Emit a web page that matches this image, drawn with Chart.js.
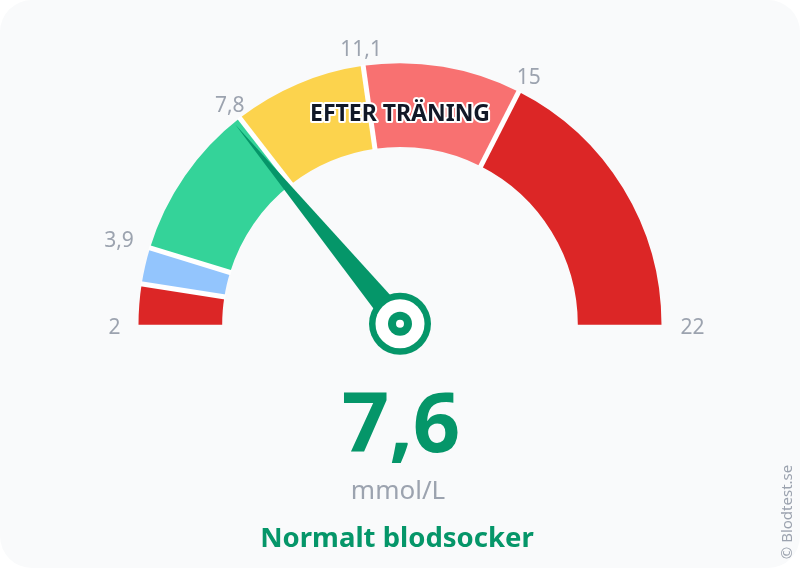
<!DOCTYPE html>
<html>
<head>
<meta charset="utf-8">
<title>Blodsocker</title>
<script src="https://cdn.jsdelivr.net/npm/chart.js@4"></script>
<style>
    html, body { margin: 0; padding: 0; background: #fff; }
    #wrap { width: 800px; height: 568px; background: #f9fafb; border-radius: 32px; overflow: hidden; }
    canvas { display: block; }
</style>
</head>
<body>
<div id="wrap"><canvas id="gauge" width="800" height="568"></canvas></div>
<script>
// Zones on the gauge (mmol/L)
const zoneLimits = [2, 3, 3.9, 7.8, 11.1, 15, 22];
const zoneColors = ['#dc2626', '#93c5fd', '#34d399', '#fcd34d', '#f87171', '#dc2626'];
const tickValues = [2, 3.9, 7.8, 11.1, 15, 22];
const tickLabels = ['2', '3,9', '7,8', '11,1', '15', '22'];
// nudge of each tick label from the outer edge of the arc, in px
const tickNudge = [[-24, 3], [-31, -7], [-10, -12], [-2, -16], [10, -14], [31, 3]];
const needleValue = 7.6;
const valueLabel = '7,6';
const unitLabel = 'mmol/L';
const statusLabel = 'Normalt blodsocker';
const contextLabel = 'EFTER TRÄNING';
const creditLabel = '© Blodtest.se';

const green = '#059669';
const grey = '#9ca3af';
const fontName = '"Noto Sans", sans-serif';

const zoneSizes = zoneLimits.slice(1).map((limit, i) => limit - zoneLimits[i]);

function valueToAngle(value) {
    const min = zoneLimits[0];
    const max = zoneLimits[zoneLimits.length - 1];
    return Math.PI + (value - min) / (max - min) * Math.PI;
}

const gaugeDecor = {
    id: 'gaugeDecor',
    afterDatasetsDraw(chart) {
        const ctx = chart.ctx;
        const arcs = chart.getDatasetMeta(0).data;
        const cx = arcs[0].x;
        const cy = arcs[0].y;
        const outer = arcs[0].outerRadius;
        const inner = arcs[0].innerRadius;

        ctx.save();

        // white gaps between the zones
        ctx.strokeStyle = '#fff';
        ctx.lineWidth = 5;
        arcs.slice(1).forEach(arc => {
            const a = arc.startAngle;
            ctx.beginPath();
            ctx.moveTo(cx + Math.cos(a) * (inner - 1), cy + Math.sin(a) * (inner - 1));
            ctx.lineTo(cx + Math.cos(a) * (outer + 1), cy + Math.sin(a) * (outer + 1));
            ctx.stroke();
        });

        // tick labels
        ctx.font = '21px ' + fontName;
        ctx.fillStyle = grey;
        ctx.textAlign = 'center';
        ctx.textBaseline = 'middle';
        tickValues.forEach((value, i) => {
            const a = valueToAngle(value);
            ctx.fillText(tickLabels[i],
                cx + Math.cos(a) * outer + tickNudge[i][0],
                cy + Math.sin(a) * outer + tickNudge[i][1]);
        });

        // needle
        const a = valueToAngle(needleValue);
        const len = outer - 3;
        const half = 12;
        const hubY = cy - 1;
        ctx.fillStyle = green;
        ctx.beginPath();
        ctx.moveTo(cx + Math.cos(a) * len, hubY + Math.sin(a) * len);
        ctx.lineTo(cx - Math.sin(a) * half, hubY + Math.cos(a) * half);
        ctx.lineTo(cx + Math.sin(a) * half, hubY - Math.cos(a) * half);
        ctx.closePath();
        ctx.fill();

        // hub
        [[31, green], [24.5, '#fff'], [12, green], [4, '#fff']].forEach(ring => {
            ctx.fillStyle = ring[1];
            ctx.beginPath();
            ctx.arc(cx, hubY, ring[0], 0, Math.PI * 2);
            ctx.fill();
        });

        // context label with white outline
        ctx.font = 'bold 23px ' + fontName;
        ctx.lineJoin = 'round';
        ctx.lineWidth = 4;
        ctx.strokeStyle = '#fff';
        ctx.strokeText(contextLabel, 400, 114);
        ctx.fillStyle = '#111827';
        ctx.fillText(contextLabel, 400, 114);

        // value and status
        ctx.fillStyle = green;
        ctx.font = 'bold 83px ' + fontName;
        ctx.fillText(valueLabel, 401, 428);
        ctx.fillStyle = grey;
        ctx.font = '26px ' + fontName;
        ctx.fillText(unitLabel, 398, 492);
        ctx.fillStyle = green;
        ctx.font = 'bold 27.5px ' + fontName;
        ctx.fillText(statusLabel, 397, 539);

        // credit
        ctx.translate(788, 512);
        ctx.rotate(-Math.PI / 2);
        ctx.fillStyle = grey;
        ctx.font = '15px ' + fontName;
        ctx.fillText(creditLabel, 0, 0);

        ctx.restore();
    }
};

new Chart(document.getElementById('gauge'), {
    type: 'doughnut',
    data: {
        labels: zoneSizes.map((s, i) => zoneLimits[i] + '–' + zoneLimits[i + 1]),
        datasets: [{
            data: zoneSizes,
            backgroundColor: zoneColors,
            borderWidth: 0,
            hoverOffset: 0
        }]
    },
    options: {
        responsive: false,
        animation: false,
        devicePixelRatio: 1,
        rotation: -90,
        circumference: 180,
        radius: 261.5,
        cutout: '68%',
        layout: { padding: { bottom: 180 } },
        plugins: {
            legend: { display: false },
            tooltip: { enabled: false }
        }
    },
    plugins: [gaugeDecor]
});
</script>
</body>
</html>
